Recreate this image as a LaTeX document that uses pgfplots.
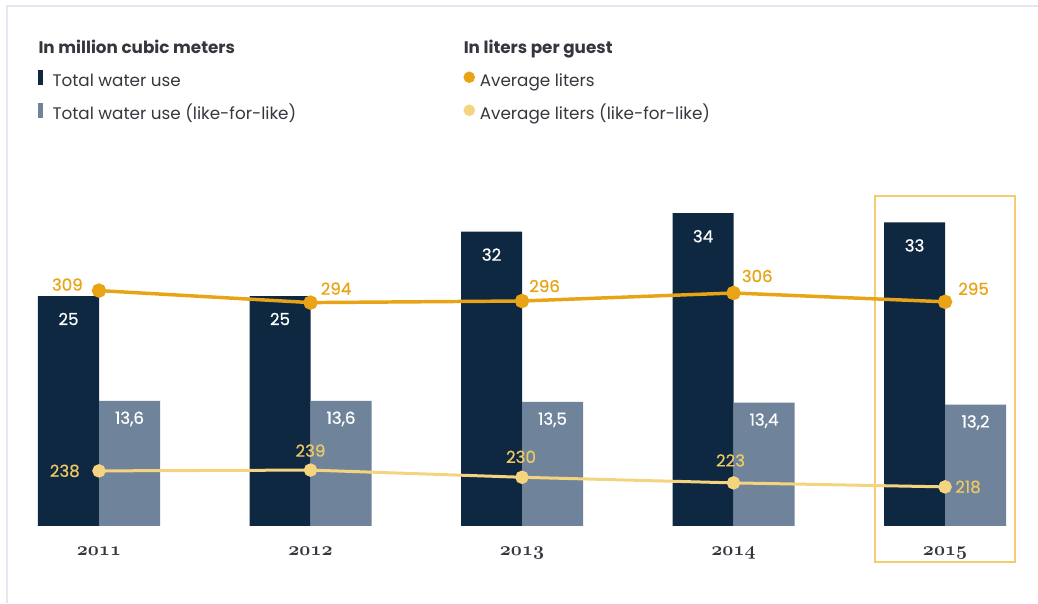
\documentclass[border=0pt]{standalone}
\usepackage{pgfplots}
\usepackage{pgfplotstable}
\pgfplotsset{compat=1.18}
\usepackage{fontspec}
\setmainfont{Poppins}
\newfontfamily\medfont[FakeBold=0.6]{Poppins}

\definecolor{navy}{RGB}{14,40,65}
\definecolor{slate}{RGB}{111,131,155}
\definecolor{amber}{RGB}{232,163,22}
\definecolor{sand}{RGB}{245,212,128}
\definecolor{sandtxt}{RGB}{238,200,100}
\definecolor{framec}{RGB}{226,232,239}
\definecolor{boxc}{RGB}{243,204,110}
\definecolor{txt}{RGB}{52,56,62}

% oldstyle bold figures for the years
\newcommand\yearfont{\fontsize{14.4}{16}\usefont{OML}{cmm}{b}{it}}
\newcommand\lblfont{\medfont\fontsize{12.5}{14}\selectfont}

% water use, million m3
\pgfplotstableread{
x total lfl
0 25 13.6
1 25 13.6
2 32 13.5
3 34 13.4
4 33 13.2
}\water

% liters per guest
\pgfplotstableread{
x liters
0 309
1 294
2 296
3 306
4 295
}\avg

\pgfplotstableread{
x liters
0 238
1 239
2 230
3 223
4 218
}\avglfl

% label of one point: table, x range, colour, anchor, dx, dy (px)
\newcommand\ptlabel[6]{%
  \addplot[draw=none, mark=none, forget plot, restrict x to domain=#2,
    nodes near coords,
    every node near coord/.append style={text=#3, inner sep=0pt, font=\lblfont,
      anchor=#4, xshift=#5*0.75pt, yshift=#6*0.75pt}]
    table[x=x, y=liters] {#1};}

\pgfplotsset{
  base/.style={
    scale only axis, width=729.7pt, height=276pt,
    at={(26.66pt,57.75pt)}, anchor=south west,
    xmin=-0.3, xmax=4.3,
    axis line style={draw=none}, tick style={draw=none},
    ytick=\empty, clip=false,
    /pgf/number format/assume math mode=true,
    /pgf/number format/use comma,
  },
}

\begin{document}
\begin{tikzpicture}
\useasboundingbox (0,0) rectangle (778.5pt,452.25pt);
\draw[framec, line width=1.5pt] (5.25pt,0pt) -- (5.25pt,447.75pt) -- (778.5pt,447.75pt);

% bars
\begin{axis}[base, ymin=0, ymax=40, ybar=0pt, bar width=45.75pt,
  xtick=data, xticklabels={2011,2012,2013,2014,2015},
  xticklabel style={font=\yearfont, text=txt, anchor=base, inner sep=0pt, yshift=-17.5pt},
  nodes near coords,
  every node near coord/.append style={text=white, font=\lblfont, anchor=center},
]
\addplot[fill=navy, draw=none, bar shift=-22.875pt,
  every node near coord/.append style={yshift=-17.25pt}]
  table[x=x, y=total] {\water};
\addplot[fill=slate, draw=none, bar shift=22.875pt,
  every node near coord/.append style={yshift=-13.5pt}]
  table[x=x, y=lfl] {\water};
\draw[boxc, line width=1.5pt] (axis cs:3.669,-3.91) rectangle (axis cs:4.331,35.87);
\end{axis}

% average liters (like-for-like)
\begin{axis}[base, ymin=169.1, ymax=629.1, xtick=\empty]
\addplot[sand, line width=2.25pt, mark=*, mark size=3.9pt,
  mark options={draw=none, fill=sand}]
  table[x=x, y=liters] {\avglfl};
\ptlabel{\avglfl}{-0.5:0.5}{sandtxt}{east}{-19}{0}
\ptlabel{\avglfl}{0.5:1.5}{sandtxt}{south}{0}{13}
\ptlabel{\avglfl}{1.5:2.5}{sandtxt}{south}{-1}{14}
\ptlabel{\avglfl}{2.5:3.5}{sandtxt}{south}{-3}{16}
\ptlabel{\avglfl}{3.5:4.5}{sandtxt}{west}{10}{0}
\end{axis}

% average liters, with the legend
\begin{axis}[base, ymin=14.75, ymax=474.75, xtick=\empty,
  legend columns=2, legend cell align=left,
  legend style={at={(0.0025,1.318)}, anchor=north west, draw=none, fill=none,
    font=\fontsize{12.6}{14}\selectfont, text=txt, inner sep=0pt,
    nodes={inner sep=0pt, text height=9pt, text depth=2.5pt},
    row sep=10.3pt, column sep=0pt},
]
\addlegendimage{empty legend}
\addlegendentry{\makebox[308.25pt][l]{\hspace*{-10.5pt}\textbf{In million cubic meters}}}
\addlegendimage{empty legend}
\addlegendentry{\hspace*{-12pt}\textbf{In liters per guest}}
\addlegendimage{legend image code/.code={\fill[navy] (0pt,-1.5pt) rectangle (3pt,8.5pt);
  \path[draw=none, fill=none] (0pt,0pt) rectangle (10.5pt,1pt);}}
\addlegendentry{\makebox[308.25pt][l]{Total water use}}
\addlegendimage{legend image code/.code={\fill[amber] (4.1pt,3.5pt) circle (4.1pt);
  \path[draw=none, fill=none] (0pt,0pt) rectangle (12pt,1pt);}}
\addlegendentry{Average liters}
\addlegendimage{legend image code/.code={\fill[slate] (0pt,-1.5pt) rectangle (3pt,8.5pt);
  \path[draw=none, fill=none] (0pt,0pt) rectangle (10.5pt,1pt);}}
\addlegendentry{\makebox[308.25pt][l]{Total water use (like-for-like)}}
\addlegendimage{legend image code/.code={\fill[sand] (4.1pt,3.5pt) circle (4.1pt);
  \path[draw=none, fill=none] (0pt,0pt) rectangle (12pt,1pt);}}
\addlegendentry{Average liters (like-for-like)}

\addplot[amber, line width=2.6pt, mark=*, mark size=4.1pt,
  mark options={draw=none, fill=amber}, forget plot]
  table[x=x, y=liters] {\avg};
\ptlabel{\avg}{-0.5:0.5}{amber}{east}{-16}{6}
\ptlabel{\avg}{0.5:1.5}{amber}{west}{10}{14}
\ptlabel{\avg}{1.5:2.5}{amber}{west}{7}{15}
\ptlabel{\avg}{2.5:3.5}{amber}{west}{8}{17}
\ptlabel{\avg}{3.5:4.5}{amber}{west}{13}{13}
\end{axis}
\end{tikzpicture}
\end{document}
